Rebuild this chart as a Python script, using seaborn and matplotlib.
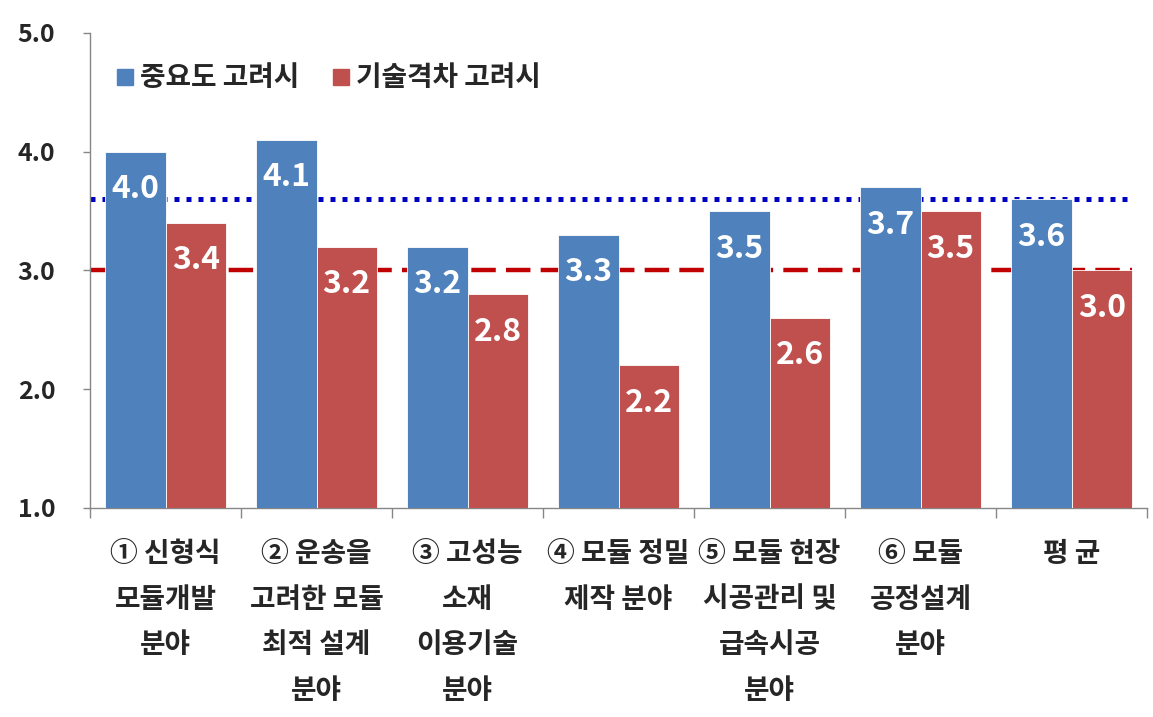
import numpy as np
import pandas as pd
import matplotlib.pyplot as plt
from matplotlib.lines import Line2D
import seaborn as sns

categories = [
    "① 신형식\n모듈개발\n분야",
    "② 운송을\n고려한 모듈\n최적 설계\n분야",
    "③ 고성능\n소재\n이용기술\n분야",
    "④ 모듈 정밀\n제작 분야",
    "⑤ 모듈 현장\n시공관리 및\n급속시공\n분야",
    "⑥ 모듈\n공정설계\n분야",
    "평 균",
]
importance = [4.0, 4.1, 3.2, 3.3, 3.5, 3.7, 3.6]
tech_gap = [3.4, 3.2, 2.8, 2.2, 2.6, 3.5, 3.0]
series_names = ["중요도 고려시", "기술격차 고려시"]
y_ticks = [1.0, 2.0, 3.0, 4.0, 5.0]

blue = "#4F81BD"
red = "#C0504D"

sns.set_theme(style="white")
plt.rcParams["font.family"] = ["Noto Sans CJK KR", "DejaVu Sans"]
plt.rcParams["font.weight"] = "bold"

df = pd.DataFrame({
    "category": categories * 2,
    "series": [series_names[0]] * len(categories) + [series_names[1]] * len(categories),
    "value": importance + tech_gap,
})

fig = plt.figure(figsize=(11.53, 7.17), dpi=100)
ax = fig.add_axes([0.0781, 0.2915, 0.9167, 0.6625])

sns.barplot(data=df, x="category", y="value", hue="series", order=categories,
            hue_order=series_names, palette=[blue, red], width=0.8, saturation=1,
            edgecolor="white", linewidth=0.6, ax=ax, legend=False, zorder=3)

# average reference lines (behind the bars)
ax.hlines(importance[-1], -0.5, 6.4, colors="#0000C0", linewidth=3.6,
          linestyles=(0, (1, 1.4)), zorder=2)
ax.hlines(tech_gap[-1], -0.5, 6.4, colors="#C00000", linewidth=3.2,
          linestyles=(0, (5.5, 2.3)), zorder=2)

for container, vals in zip(ax.containers, [importance, tech_gap]):
    for patch, v in zip(container, vals):
        ax.annotate(f"{v:.1f}", (patch.get_x() + patch.get_width() / 2, v),
                    xytext=(0, -27), textcoords="offset points",
                    ha="center", va="center", color="white",
                    fontsize=23, fontweight="bold", zorder=5)

ax.set_ylim(1.0, 5.0)
ax.set_xlim(-0.5, 6.5)
ax.set_yticks(y_ticks)
ax.set_yticklabels([f"{t:.1f}" for t in y_ticks], fontsize=18, fontweight="bold")
ax.set_xticks(range(len(categories)))
ax.set_xticklabels(categories, fontsize=20, fontweight="bold", linespacing=1.8,
                   va="top")
ax.set_xticks(np.arange(-0.5, len(categories)), minor=True)
ax.tick_params(axis="x", which="major", length=0, pad=23)
ax.tick_params(axis="x", which="minor", length=7, width=1, color="#868686",
               direction="out", bottom=True)
ax.tick_params(axis="y", length=5, width=1, color="#868686", direction="out",
               left=True, pad=20)
ax.set_xlabel("")
ax.set_ylabel("")

for s in ["top", "right"]:
    ax.spines[s].set_visible(False)
for s in ["left", "bottom"]:
    ax.spines[s].set_color("#868686")
    ax.spines[s].set_linewidth(1)

handles = [Line2D([], [], marker="s", linestyle="", markersize=12,
                  markerfacecolor=c, markeredgecolor=c) for c in [blue, red]]
ax.legend(handles, series_names, loc="upper left", bbox_to_anchor=(0.004, 0.975),
          ncol=2, frameon=False, prop={"size": 20, "weight": "bold"},
          handletextpad=0.15, columnspacing=1.1, borderaxespad=0.3,
          handlelength=0.8)

fig.savefig("out.png", dpi=100)
